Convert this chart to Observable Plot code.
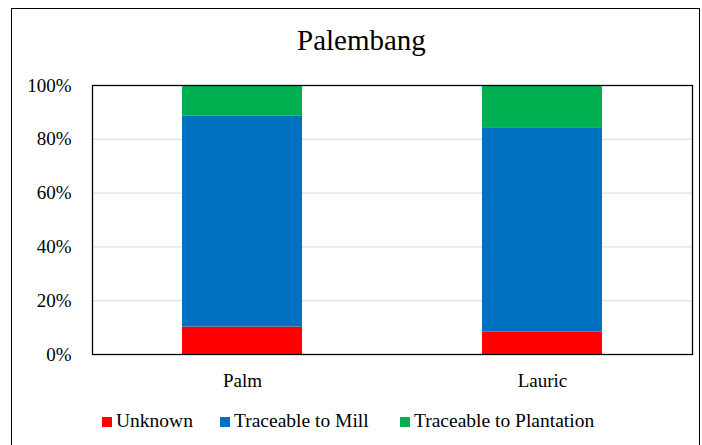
<!DOCTYPE html>
<html>
<head>
<meta charset="utf-8">
<script src="https://cdn.jsdelivr.net/npm/d3@7"></script>
<script src="https://cdn.jsdelivr.net/npm/@observablehq/plot@0.6"></script>
<style>
  html, body { margin: 0; padding: 0; background: #fff; overflow: hidden; }
  #wrap { position: relative; width: 702px; height: 445px; font-family: "Liberation Serif", "Times New Roman", serif; color: #000; }
  #border { position: absolute; left: 11px; top: 8px; width: 689px; height: 460px; border: 1.5px solid #000; box-sizing: border-box; pointer-events: none; }
  #title { height: 70px; box-sizing: border-box; padding-top: 24px; padding-left: 297px; font-size: 29px; line-height: 32px; white-space: nowrap; }
  #chart svg { display: block; }
  #chart svg text { font-family: "Liberation Serif", "Times New Roman", serif; }
  #legend { position: relative; height: 45px; font-size: 19.5px; }
  .item { position: absolute; top: 10px; display: flex; align-items: baseline; white-space: nowrap; line-height: 21px; }
  .sw { display: inline-block; width: 10px; height: 10px; margin-right: 4px; }
</style>
</head>
<body>
<div id="wrap">
  <div id="border"></div>
  <div id="title">Palembang</div>
  <div id="chart"></div>
  <div id="legend"></div>
</div>
<script>
const categories = ["Palm", "Lauric"];
const seriesNames = ["Unknown", "Traceable to Mill", "Traceable to Plantation"];
const seriesColors = ["#FF0000", "#0070C0", "#00B050"];
const unknown = [10.2, 8.4];
const traceableToMill = [78.5, 75.9];
const traceableToPlantation = [11.3, 15.7];
const yTicks = [0, 20, 40, 60, 80, 100];
const legendLeft = [102, 220, 400];

const seriesValues = [unknown, traceableToMill, traceableToPlantation];
const rows = [];
seriesNames.forEach((s, si) => {
  categories.forEach((c, ci) => {
    rows.push({category: c, series: s, value: seriesValues[si][ci]});
  });
});

const chart = Plot.plot({
  width: 702,
  height: 330,
  marginLeft: 92,
  marginRight: 10,
  marginTop: 15,
  marginBottom: 46,
  style: {fontFamily: "Liberation Serif, Times New Roman, serif", fontSize: "19px", color: "#000", background: "transparent"},
  x: {domain: categories, paddingInner: 0.6, paddingOuter: 0.3, label: null},
  y: {domain: [0, 100], label: null},
  color: {domain: seriesNames, range: seriesColors},
  marks: [
    Plot.gridY(yTicks.filter(d => d > 0 && d < 100), {stroke: "#d9d9d9", strokeOpacity: 1, strokeWidth: 1}),
    Plot.barY(rows, {x: "category", y: "value", fill: "series", order: seriesNames, inset: 0}),
    Plot.axisY(yTicks, {tickSize: 0, tickPadding: 21, tickFormat: d => d + "%", label: null}),
    Plot.axisX({tickSize: 0, tickPadding: 19, label: null}),
    Plot.frame({stroke: "#000", strokeWidth: 1.3})
  ]
});
document.getElementById("chart").appendChild(chart);

const legend = document.getElementById("legend");
seriesNames.forEach((s, i) => {
  const item = document.createElement("div");
  item.className = "item";
  item.style.left = legendLeft[i] + "px";
  const sw = document.createElement("span");
  sw.className = "sw";
  sw.style.background = seriesColors[i];
  const t = document.createElement("span");
  t.textContent = s;
  item.appendChild(sw);
  item.appendChild(t);
  legend.appendChild(item);
});
</script>
</body>
</html>
